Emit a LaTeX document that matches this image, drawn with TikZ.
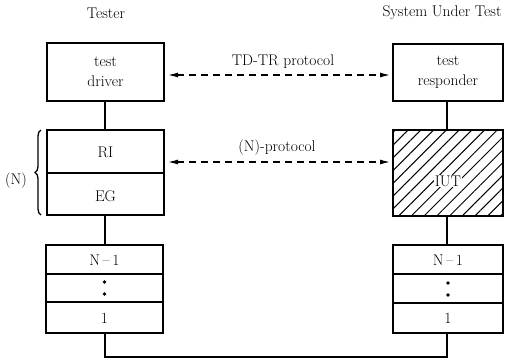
\documentclass[tikz,border=0pt]{standalone}
\usetikzlibrary{arrows.meta,patterns.meta,decorations.pathreplacing}
\begin{document}
\begin{tikzpicture}[x=1pt,y=-1pt,line width=1.3pt,
  box/.style={draw,line width=1.3pt},
  lbl/.style={font=\fontsize{15.5}{18}\selectfont,align=center,inner sep=1pt},
  dotm/.style={fill,circle,inner sep=0pt,minimum size=3.8pt},
  proto/.style={dashed,line width=1.2pt,dash pattern=on 7pt off 5pt,{Latex[length=10pt,width=5pt]}-{Latex[length=10pt,width=5pt]}}]
\useasboundingbox (0,0) rectangle (512,360);
% titles
\node[lbl] (ttester) at (106,13) {Tester};
\node[lbl] (tsut) at (442,13) {System Under Test};
% left
\draw[box] (47,43) rectangle (164,101);
\node[lbl] (td) at (105.5,72) {test\\[2pt]driver};
\coordinate (tdS) at (105,101);
\draw[box] (47,130) rectangle (164,215);
\draw[box] (47,173) -- (164,173);
\node[lbl] (ri) at (105.5,152) {RI};
\node[lbl] (eg) at (105.5,196) {EG};
\coordinate (riN) at (105,130); \coordinate (egS) at (105,215);
\draw[box] (46,245) rectangle (163,333);
\draw[box] (46,274) -- (163,274);
\draw[box] (46,302) -- (163,302);
\node[lbl] (ln1) at (104.5,260) {N\,--\,1};
\node[dotm] (ld1) at (104.5,282) {};
\node[dotm] (ld2) at (104.5,294) {};
\node[lbl] (l1) at (104.5,318) {1};
\coordinate (lN) at (105,245); \coordinate (lS) at (105,333);
% right
\draw[box] (393,44) rectangle (503,101);
\node[lbl] (tr) at (448,72) {test\\[2pt]responder};
\coordinate (trS) at (447,101);
\begin{scope}
\clip (393,130) rectangle (503,216);
\fill[pattern={Lines[angle=45,distance=9pt,line width=1pt]}] (393,130) rectangle (503,216);
\end{scope}
\draw[box] (393,130) rectangle (503,216);
\node[lbl,fill=white,inner sep=0.5pt] (iut) at (448,181) {IUT};
\coordinate (iutN) at (447,130); \coordinate (iutS) at (447,216);
\draw[box] (393,245) rectangle (503,333);
\draw[box] (393,274) -- (503,274);
\draw[box] (393,303) -- (503,303);
\node[lbl] (rn1) at (448,260) {N\,--\,1};
\node[dotm] (rd1) at (448,283) {};
\node[dotm] (rd2) at (448,295) {};
\node[lbl] (r1) at (448,318) {1};
\coordinate (rN) at (447,245); \coordinate (rS) at (447,333);
% connectors
\draw (tdS) -- (riN);
\draw (egS) -- (lN);
\draw (trS) -- (iutN);
\draw (iutS) -- (rN);
\coordinate (bl) at (105,357); \coordinate (br) at (447,357);
\draw (lS) -- (bl) -- (br) -- (rS);
% protocols
\coordinate (a1) at (168,75); \coordinate (a2) at (390,75);
\draw[proto] (a1) -- (a2);
\node[lbl] (tdtr) at (283,62) {TD-TR protocol};
\coordinate (b1) at (168,162); \coordinate (b2) at (390,162);
\draw[proto] (b1) -- (b2);
\node[lbl] (np) at (277,148) {(N)-protocol};
% brace
\draw[decorate,decoration={brace,amplitude=6pt}] (41,215) -- (41,130);
\node[lbl] (nlab) at (16,181) {(N)};
\end{tikzpicture}
\end{document}
